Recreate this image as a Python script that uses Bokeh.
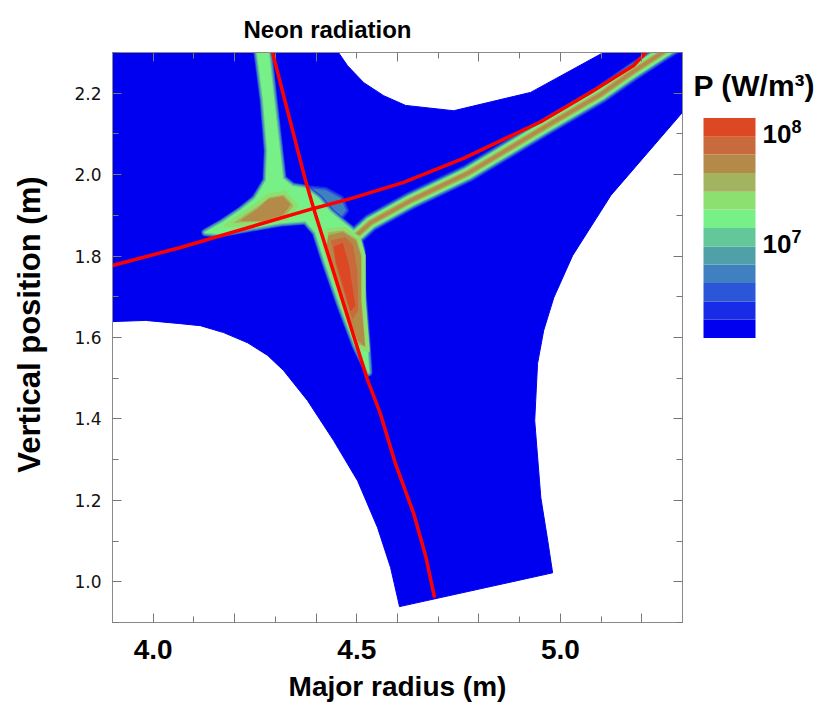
from bokeh.plotting import figure
from bokeh.layouts import row
from bokeh.models import Range1d, FixedTicker, LinearAxis
from bokeh.embed import file_html
from bokeh.resources import INLINE
from bokeh.core.properties import value

# ---------------- texts ----------------
TITLE = "Neon radiation"
X_LABEL = "Major radius (m)"
Y_LABEL = "\u00a0\u00a0\u00a0Vertical position (m)"
CBAR_TITLE = "P (W/m³)"

# ---------------- ticks ----------------
x_major = [4.0, 4.2, 4.4, 4.5, 4.6, 4.8, 5.0, 5.2]
x_minor = [3.9, 4.1, 4.3, 4.7, 4.9, 5.1, 5.3]
x_top_major = [4.0, 4.2, 4.4, 4.6, 4.8, 5.0, 5.2]
x_top_minor = [3.9, 4.1, 4.3, 4.5, 4.7, 4.9, 5.1, 5.3]
x_tick_labels = {4.0: "4.0", 4.5: "4.5", 5.0: "5.0"}
y_major = [1.0, 1.2, 1.4, 1.6, 1.8, 2.0, 2.2]
y_minor = [0.9, 1.1, 1.3, 1.5, 1.7, 1.9, 2.1, 2.3]
y_tick_labels = ["1.0", "1.2", "1.4", "1.6", "1.8", "2.0", "2.2"]

# ---------------- computational domain (R, Z in m) ----------------
domain_r = [3.900, 4.455, 4.477, 4.517, 4.566, 4.620, 4.738, 4.927, 5.106, 5.300,
            5.300, 5.124, 5.030, 4.984, 4.959, 4.944, 4.937, 4.952, 4.969, 4.981,
            4.605, 4.583, 4.551, 4.502, 4.443, 4.379, 4.320, 4.281, 4.232, 4.173,
            4.116, 4.067, 3.981, 3.900]
domain_z = [2.300, 2.300, 2.268, 2.226, 2.194, 2.170, 2.157, 2.202, 2.300, 2.300,
            2.153, 1.949, 1.801, 1.698, 1.617, 1.536, 1.396, 1.207, 1.101, 1.022,
            0.939, 1.035, 1.133, 1.248, 1.347, 1.445, 1.519, 1.556, 1.587, 1.612,
            1.629, 1.634, 1.642, 1.639]

# ---------------- separatrix legs ----------------
sep1_r = [4.293, 4.374, 4.394, 4.527, 4.558, 4.595, 4.640, 4.669, 4.691]
sep1_z = [2.300, 1.986, 1.917, 1.494, 1.413, 1.290, 1.167, 1.064, 0.961]
sep2_r = [3.900, 4.067, 4.394, 4.485, 4.615, 4.762, 4.952, 5.074, 5.180, 5.210]
sep2_z = [1.777, 1.821, 1.917, 1.941, 1.981, 2.040, 2.130, 2.202, 2.268, 2.300]

# ---------------- radiation zones ----------------
# inner legs + X-point zone (contour ~ 2e7 W/m3)
legs_r = [4.256, 4.271, 4.281, 4.278, 4.251, 4.215, 4.170, 4.128, 4.165, 4.234,
          4.313, 4.374, 4.399, 4.423, 4.460, 4.497, 4.529, 4.524, 4.514, 4.512,
          4.502, 4.472, 4.436, 4.406, 4.374, 4.342, 4.318, 4.310, 4.296, 4.283]
legs_z = [2.300, 2.182, 2.059, 1.986, 1.941, 1.912, 1.882, 1.858, 1.855, 1.868,
          1.882, 1.887, 1.858, 1.784, 1.678, 1.580, 1.514, 1.592, 1.715, 1.814,
          1.853, 1.877, 1.907, 1.941, 1.966, 1.971, 1.990, 2.059, 2.182, 2.300]
# outer leg ridge
outer_leg_r = [4.472, 4.534, 4.632, 4.772, 4.964, 5.099, 5.173, 5.251, 5.283]
outer_leg_z = [1.826, 1.882, 1.936, 2.003, 2.118, 2.197, 2.249, 2.300, 2.320]
# faint fan right of the X-point
fan_r = [4.374, 4.423, 4.460, 4.472, 4.448, 4.406]
fan_z = [1.966, 1.961, 1.941, 1.912, 1.882, 1.900]
# inner-leg hot spot
inner_rim_r = [4.178, 4.251, 4.283, 4.323, 4.352, 4.325, 4.269]
inner_rim_z = [1.875, 1.924, 1.949, 1.956, 1.924, 1.892, 1.880]
inner_core_r = [4.215, 4.259, 4.283, 4.318, 4.337, 4.318, 4.269]
inner_core_z = [1.887, 1.917, 1.939, 1.946, 1.927, 1.902, 1.887]
# outer-leg (below X-point) hot spot
low_rim_r = [4.426, 4.468, 4.504, 4.517, 4.517, 4.527, 4.500, 4.465, 4.438, 4.421]
low_rim_z = [1.863, 1.868, 1.845, 1.801, 1.691, 1.568, 1.580, 1.678, 1.764, 1.826]
low_core_r = [4.431, 4.465, 4.497, 4.509, 4.509, 4.519, 4.504, 4.472, 4.448, 4.428]
low_core_z = [1.850, 1.858, 1.838, 1.801, 1.691, 1.580, 1.592, 1.678, 1.764, 1.826]
low_hot_r = [4.438, 4.472, 4.490, 4.500, 4.502, 4.490, 4.468, 4.450]
low_hot_z = [1.838, 1.845, 1.826, 1.764, 1.666, 1.646, 1.715, 1.777]
low_peak_r = [4.445, 4.465, 4.480, 4.495, 4.485, 4.465, 4.450]
low_peak_z = [1.823, 1.831, 1.777, 1.678, 1.666, 1.735, 1.784]

# ---------------- colour scale (log10 P, bottom to top) ----------------
cbar_log_edges = [6.14, 6.31, 6.47, 6.64, 6.81, 6.97, 7.14, 7.31, 7.47, 7.64, 7.81, 7.97, 8.14]
cbar_colors = ["#0000F0", "#182CE8", "#2C56D8", "#4080C0", "#50A0A8", "#62C89A",
               "#78F088", "#8CE070", "#A3B460", "#B48A48", "#C86A3C", "#DC4824"]
cbar_tick_values = [7, 8]
cbar_tick_base = ["10", "10"]
cbar_tick_exp = ["7", "8"]

BLUE = cbar_colors[0]
FONT = value("Liberation Sans")

# ---------------- main figure ----------------
p = figure(frame_width=570, frame_height=570,
           x_range=Range1d(3.9, 5.3), y_range=Range1d(0.9, 2.3),
           output_backend="svg", toolbar_location=None,
           min_border_left=112, min_border_right=8,
           min_border_top=52, min_border_bottom=91)
p.grid.visible = False
p.background_fill_color = "white"
p.border_fill_color = "white"
p.outline_line_color = "#8a8a8a"

p.title.text = TITLE
p.title.align = "left"
p.title.offset = 131
p.title.standoff = 20
p.title.text_font = "Liberation Sans"
p.title.text_font_size = "24px"
p.title.text_font_style = "bold"
p.title.text_color = "black"

def style_axis(ax, ticks, minor):
    ax.ticker = FixedTicker(ticks=ticks, minor_ticks=minor)
    ax.major_tick_in = 9
    ax.major_tick_out = 0
    ax.minor_tick_in = 6
    ax.minor_tick_out = 0
    ax.major_tick_line_color = "#777777"
    ax.minor_tick_line_color = "#777777"
    ax.axis_line_color = "#8a8a8a"

xa = p.xaxis[0]
style_axis(xa, x_major, x_minor)
xa.major_label_overrides = {v: x_tick_labels.get(v, "") for v in x_major}
xa.major_label_text_font = "Liberation Sans"
xa.major_label_text_font_style = "bold"
xa.major_label_text_font_size = "28px"
xa.major_label_text_color = "black"
xa.major_label_standoff = 17
xa.axis_label = X_LABEL
xa.axis_label_text_font = "Liberation Sans"
xa.axis_label_text_font_style = "bold"
xa.axis_label_text_font_size = "28px"
xa.axis_label_text_color = "black"
xa.axis_label_standoff = 9

ya = p.yaxis[0]
style_axis(ya, y_major, y_minor)
ya.major_label_overrides = {v: t for v, t in zip(y_major, y_tick_labels)}
ya.major_label_text_font = "DejaVu Sans"
ya.major_label_text_font_size = "17px"
ya.major_label_text_color = "#111111"
ya.major_label_standoff = 11
ya.axis_label = Y_LABEL
ya.axis_label_text_font = "Liberation Sans"
ya.axis_label_text_font_style = "bold"
ya.axis_label_text_font_size = "31px"
ya.axis_label_text_color = "black"
ya.axis_label_standoff = 24

top = LinearAxis()
style_axis(top, x_top_major, x_top_minor)
top.major_label_overrides = {v: "" for v in x_top_major}
top.major_label_text_font_size = "0px"
top.major_label_standoff = 0
p.add_layout(top, "above")

right = LinearAxis()
style_axis(right, y_major, y_minor)
right.major_label_overrides = {v: "" for v in y_major}
right.major_label_text_font_size = "0px"
right.major_label_standoff = 0
p.add_layout(right, "right")

# domain
p.patch(domain_r, domain_z, fill_color=BLUE, line_color=BLUE, line_width=1)

# X-point fan
for c, lw in [(cbar_colors[1], 7), (cbar_colors[2], 4), (cbar_colors[3], 1)]:
    p.patch(fan_r, fan_z, fill_color=c, line_color=c, line_width=lw, line_join="round")

# halo layers for the legs
layers = [(cbar_colors[1], 8, 18), (cbar_colors[2], 7, 16), (cbar_colors[3], 6, 14.5),
          (cbar_colors[4], 4.5, 13), (cbar_colors[5], 3, 12), (cbar_colors[6], 1, 10.5)]
for c, lw, sw in layers:
    p.patch(legs_r, legs_z, fill_color=c, line_color=c, line_width=lw, line_join="round")
    p.line(outer_leg_r, outer_leg_z, line_color=c, line_width=sw,
           line_join="round", line_cap="round")
for c, sw in [(cbar_colors[7], 8), (cbar_colors[8], 6), (cbar_colors[9], 3.5)]:
    p.line(outer_leg_r, outer_leg_z, line_color=c, line_width=sw,
           line_join="round", line_cap="round")

# hot spots
p.patch(inner_rim_r, inner_rim_z, fill_color=cbar_colors[8], line_color=cbar_colors[7],
        line_width=4, line_join="round")
p.patch(inner_core_r, inner_core_z, fill_color=cbar_colors[9], line_color=cbar_colors[9],
        line_width=1, line_join="round")
p.patch(low_rim_r, low_rim_z, fill_color=cbar_colors[8], line_color=cbar_colors[7],
        line_width=4, line_join="round")
p.patch(low_core_r, low_core_z, fill_color=cbar_colors[9], line_color=cbar_colors[9],
        line_width=1, line_join="round")
p.patch(low_hot_r, low_hot_z, fill_color=cbar_colors[10], line_color=cbar_colors[10],
        line_width=1, line_join="round")
p.patch(low_peak_r, low_peak_z, fill_color=cbar_colors[11], line_color=cbar_colors[11],
        line_width=1, line_join="round")

# separatrix
p.line(sep1_r, sep1_z, line_color="#FF0000", line_width=3.5, line_join="round")
p.line(sep2_r, sep2_z, line_color="#FF0000", line_width=3.5, line_join="round")

# ---------------- colour bar ----------------
# frame spans 52..622 px; 110 px per decade; 10^8 at 133 px from top
cb = figure(frame_width=133, frame_height=570, x_range=Range1d(0, 133),
            y_range=Range1d(8 - (622 - 133) / 110, 8 + (133 - 52) / 110),
            output_backend="svg", toolbar_location=None,
            x_axis_location=None, y_axis_location=None,
            min_border_left=0, min_border_right=0,
            min_border_top=52, min_border_bottom=91)
cb.title.visible = False
cb.grid.visible = False
cb.outline_line_color = None
cb.background_fill_color = "white"
cb.border_fill_color = "white"
cb.quad(left=13, right=65, bottom=cbar_log_edges[:-1], top=cbar_log_edges[1:],
        fill_color=cbar_colors, line_color=None)
cb.text(x=[3], y=[8 + 48 / 110], text=[CBAR_TITLE], text_font=FONT,
        text_font_style="bold", text_font_size="30px", text_baseline="alphabetic",
        text_color="black")
cb.text(x=[72] * len(cbar_tick_values), y=cbar_tick_values, text=cbar_tick_base,
        text_font=FONT, text_font_style="bold", text_font_size="26px",
        text_baseline="middle", text_color="black")
cb.text(x=[101] * len(cbar_tick_values), y=[v + 0.06 for v in cbar_tick_values],
        text=cbar_tick_exp, text_font=FONT, text_font_style="bold",
        text_font_size="18px", text_baseline="middle", text_color="black")

layout = row(p, cb, spacing=0)
open("out.html", "w").write(file_html(layout, INLINE))
